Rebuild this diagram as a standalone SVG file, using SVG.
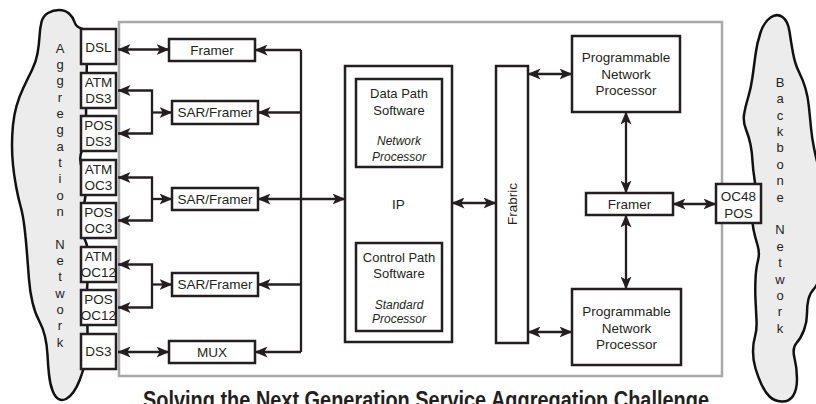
<svg xmlns="http://www.w3.org/2000/svg" width="816" height="404" viewBox="0 0 816 404">
<defs>
<marker id="ah" viewBox="0 0 13 11" refX="12.5" refY="5.5" markerWidth="13" markerHeight="11" orient="auto-start-reverse" markerUnits="userSpaceOnUse">
<path d="M0,0 L13,5.5 L0,11 L3.2,5.5 Z" fill="#231f20"/>
</marker>
<style>
.box{fill:#fff;stroke:#231f20;stroke-width:2.5}
.cloud{fill:#ececec;stroke:#111;stroke-width:2.5;stroke-linejoin:round}
.t{font-family:"Liberation Sans",Arial,Helvetica,sans-serif;font-size:13.5px;fill:#231f20;text-anchor:middle}
.i{font-family:"Liberation Sans",Arial,Helvetica,sans-serif;font-size:12px;font-style:italic;fill:#231f20;text-anchor:middle}
.v{font-family:"Liberation Sans",Arial,Helvetica,sans-serif;font-size:13px;fill:#231f20;text-anchor:middle}
.ln{fill:none;stroke:#231f20;stroke-width:2.3}
.a2{marker-start:url(#ah);marker-end:url(#ah)}
.a1{marker-end:url(#ah)}
</style>
</defs>
<rect width="816" height="404" fill="#fff"/>

<g id="aggregation-network">
<path class="cloud" d="M87,45 Q87,30 81.5,28.5 Q76,27 74.5,22 Q73,17 69,13.5 Q65,10 59,10 Q53,10 48,13 Q43,16 41.5,22 Q40,28 39.5,36.5 Q39,45 37.5,53.5 Q36,62 32,70 Q28,78 23.5,87.5 Q19,97 16.5,106 Q14,115 13,125 Q12,135 12,145 Q12,155 13,165 Q14,175 16,186 Q18,197 20.5,206 Q23,215 24.5,227.5 Q26,240 27,253.5 Q28,267 29,279.5 Q30,292 32.5,302.5 Q35,313 39,320.5 Q43,328 45,336.5 Q47,345 47.5,355 Q48,365 49,374.5 Q50,384 52.5,390.5 Q55,397 58.5,399 Q62,401 66,399 Q70,397 73.5,392 Q77,387 79.5,380.5 Q82,374 84,367 Q86,360 87,345 Q88,330 87,315 Q86,300 88,275 Q90,250 85,240 Q80,230 82,217.5 Q84,205 86,192.5 Q88,180 83,170 Q78,160 82,150 Q86,140 86,120 Q86,100 86.5,80 Q87,60 87,45 Z"/>
<text class="v" x="60" y="52.7"><tspan x="60">A</tspan><tspan x="60" dy="16.33">g</tspan><tspan x="60" dy="16.33">g</tspan><tspan x="60" dy="16.33">r</tspan><tspan x="60" dy="16.33">e</tspan><tspan x="60" dy="16.33">g</tspan><tspan x="60" dy="16.33">a</tspan><tspan x="60" dy="16.33">t</tspan><tspan x="60" dy="16.33">i</tspan><tspan x="60" dy="16.33">o</tspan><tspan x="60" dy="16.33">n</tspan><tspan x="60" dy="32.66">N</tspan><tspan x="60" dy="16.33">e</tspan><tspan x="60" dy="16.33">t</tspan><tspan x="60" dy="16.33">w</tspan><tspan x="60" dy="16.33">o</tspan><tspan x="60" dy="16.33">r</tspan><tspan x="60" dy="16.33">k</tspan></text>
</g>

<g id="backbone-network">
<path class="cloud" d="M770.5,17.5 Q777,13 782.5,17 Q788,21 789.5,31.5 Q791,42 793,53 Q795,64 799,72 Q803,80 805.5,88.5 Q808,97 809,107.5 Q810,118 811,128 Q812,138 814,148 Q816,158 819,169 Q822,180 823,205 Q824,230 822,256 Q820,282 815,287.5 Q810,293 808.5,299 Q807,305 807,313.5 Q807,322 804,330 Q801,338 796.5,343 Q792,348 794.5,358 Q797,368 797,379 Q797,390 793,396 Q789,402 781.5,401.5 Q774,401 769.5,396.5 Q765,392 761.5,384.5 Q758,377 755.5,368.5 Q753,360 753,351.5 Q753,343 755,336.5 Q757,330 756.5,320 Q756,310 755.5,300 Q755,290 755.5,279 Q756,268 758,260.5 Q760,253 757.5,245 Q755,237 753.5,229.5 Q752,222 752.5,213.5 Q753,205 754.5,196.5 Q756,188 754.5,179 Q753,170 752.5,161 Q752,152 750.5,144.5 Q749,137 746,129.5 Q743,122 744,115 Q745,108 748,98 Q751,88 752.5,77 Q754,66 755.5,54.5 Q757,43 760.5,32.5 Q764,22 770.5,17.5 Z"/>
<text class="v" x="780" y="86.7"><tspan x="780">B</tspan><tspan x="780" dy="16.4">a</tspan><tspan x="780" dy="16.4">c</tspan><tspan x="780" dy="16.4">k</tspan><tspan x="780" dy="16.4">b</tspan><tspan x="780" dy="16.4">o</tspan><tspan x="780" dy="16.4">n</tspan><tspan x="780" dy="16.4">e</tspan><tspan x="780" dy="32.8">N</tspan><tspan x="780" dy="16.4">e</tspan><tspan x="780" dy="16.4">t</tspan><tspan x="780" dy="16.4">w</tspan><tspan x="780" dy="16.4">o</tspan><tspan x="780" dy="16.4">r</tspan><tspan x="780" dy="16.4">k</tspan></text>
</g>

<g id="system-frame">
<rect x="119" y="22" width="603" height="354" fill="#fff" stroke="#a7a9ac" stroke-width="2.5"/>
</g>

<g id="connectors">
<path class="ln a2" d="M118,49.5 H169"/>
<path class="ln a1" d="M301,50 H255"/>
<path class="ln" d="M301,50 V352"/>
<path class="ln a1" d="M301,352 H255"/>
<path class="ln a1" d="M301,112.5 H258"/>
<path class="ln a1" d="M301,284.5 H258"/>
<path class="ln a2" d="M258,199 H345"/>
<path class="ln a2" d="M118,90.5 H152 V133.5 H118"/>
<path class="ln a1" d="M152,112.5 H172"/>
<path class="ln a2" d="M118,177.5 H152 V220.5 H118"/>
<path class="ln a1" d="M152,199 H172"/>
<path class="ln a2" d="M118,264.5 H152 V307.5 H118"/>
<path class="ln a1" d="M152,284.5 H172"/>
<path class="ln a2" d="M118,352 H169"/>
<path class="ln a2" d="M452,203 H496"/>
<path class="ln a2" d="M528,74 H572"/>
<path class="ln a2" d="M528,332 H572"/>
<path class="ln a2" d="M626,112 V193"/>
<path class="ln a2" d="M626,215 V289"/>
<path class="ln a2" d="M673,204 H716"/>
</g>

<g id="dsl"><rect class="box" x="81" y="29" width="35" height="35"/><text class="t" x="98.5" y="51.5">DSL</text></g>
<g id="atm-ds3"><rect class="box" x="81" y="73" width="35" height="35"/><text class="t" x="98.5" y="87.3">ATM</text><text class="t" x="98.5" y="103.3">DS3</text></g>
<g id="pos-ds3"><rect class="box" x="81" y="116" width="35" height="35"/><text class="t" x="98.5" y="130.3">POS</text><text class="t" x="98.5" y="146.3">DS3</text></g>
<g id="atm-oc3"><rect class="box" x="81" y="160" width="35" height="35"/><text class="t" x="98.5" y="174.3">ATM</text><text class="t" x="98.5" y="190.3">OC3</text></g>
<g id="pos-oc3"><rect class="box" x="81" y="203" width="35" height="35"/><text class="t" x="98.5" y="217.3">POS</text><text class="t" x="98.5" y="233.3">OC3</text></g>
<g id="atm-oc12"><rect class="box" x="81" y="247" width="35" height="35"/><text class="t" x="98.5" y="261.3">ATM</text><text class="t" x="98.5" y="277.3">OC12</text></g>
<g id="pos-oc12"><rect class="box" x="81" y="290" width="35" height="35"/><text class="t" x="98.5" y="304.3">POS</text><text class="t" x="98.5" y="320.3">OC12</text></g>
<g id="ds3"><rect class="box" x="81" y="334" width="35" height="35"/><text class="t" x="98.5" y="356.3">DS3</text></g>

<g id="framer-left"><rect class="box" x="169" y="39" width="86" height="22"/><text class="t" x="212" y="54.8">Framer</text></g>
<g id="sar-framer-1"><rect class="box" x="172" y="101" width="86" height="23"/><text class="t" x="215" y="117.3">SAR/Framer</text></g>
<g id="sar-framer-2"><rect class="box" x="172" y="188" width="86" height="22"/><text class="t" x="215" y="203.8">SAR/Framer</text></g>
<g id="sar-framer-3"><rect class="box" x="172" y="273" width="86" height="23"/><text class="t" x="215" y="289.3">SAR/Framer</text></g>
<g id="mux"><rect class="box" x="169" y="341" width="86" height="22"/><text class="t" x="212" y="356.8">MUX</text></g>

<g id="ip">
<rect class="box" x="345" y="66" width="107" height="276"/>
<text class="t" x="398.5" y="208.8">IP</text>
<g id="data-path">
<rect class="box" x="356" y="79" width="86" height="88"/>
<text class="t" x="399" y="97.8" style="font-size:13px">Data Path</text>
<text class="t" x="399" y="114.6" style="font-size:13px">Software</text>
<text class="i" x="399" y="145.3">Network</text>
<text class="i" x="399" y="160.6">Processor</text>
</g>
<g id="control-path">
<rect class="box" x="356" y="243" width="86" height="88"/>
<text class="t" x="399" y="261.6" style="font-size:13px">Control Path</text>
<text class="t" x="399" y="278" style="font-size:13px">Software</text>
<text class="i" x="399" y="309.4">Standard</text>
<text class="i" x="399" y="322.8">Processor</text>
</g>
</g>

<g id="fabric"><rect class="box" x="496" y="66" width="32" height="277"/><text class="t" transform="translate(517,204) rotate(-90)">Frabric</text></g>

<g id="pnp-top"><rect class="box" x="572" y="36" width="108" height="76"/><text class="t" x="626" y="62.3">Programmable</text><text class="t" x="626" y="78.8">Network</text><text class="t" x="626" y="95.3">Processor</text></g>
<g id="framer-right"><rect class="box" x="586" y="193" width="87" height="22"/><text class="t" x="629.5" y="208.8">Framer</text></g>
<g id="pnp-bottom"><rect class="box" x="572" y="289" width="109" height="76"/><text class="t" x="626.5" y="316">Programmable</text><text class="t" x="626.5" y="332.5">Network</text><text class="t" x="626.5" y="349">Processor</text></g>
<g id="oc48-pos"><rect class="box" x="716" y="184" width="45" height="39"/><text class="t" x="738.5" y="200.5">OC48</text><text class="t" x="738.5" y="217.5">POS</text></g>

<text x="143" y="408" textLength="566" lengthAdjust="spacingAndGlyphs" style="font-family:'Liberation Sans Narrow','Liberation Sans',Arial,sans-serif;font-weight:bold;font-size:23px;fill:#231f20">Solving the Next Generation Service Aggregation Challenge</text>
</svg>
